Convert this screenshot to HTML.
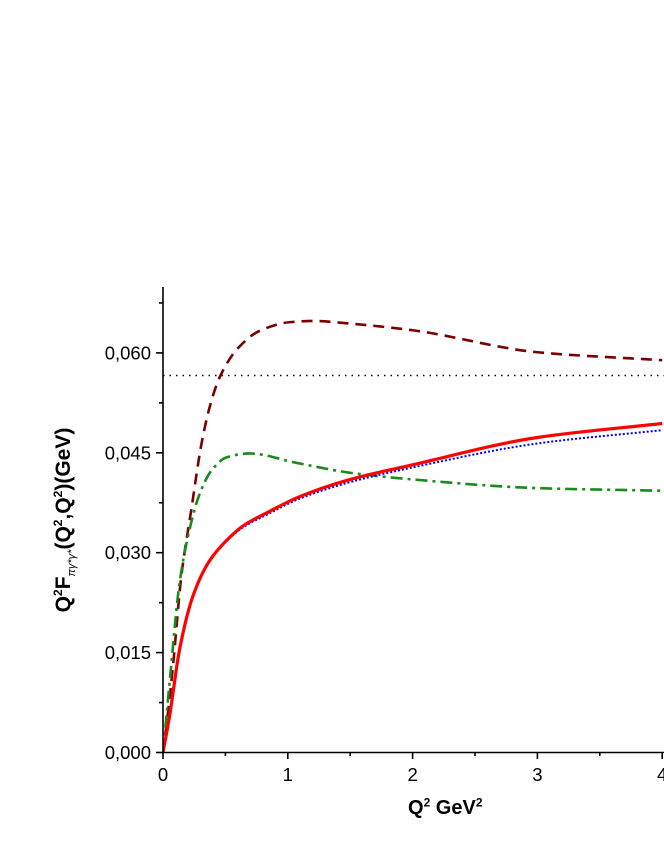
<!DOCTYPE html>
<html><head><meta charset="utf-8"><style>
body{margin:0;background:#fff;}
svg{display:block;font-family:"Liberation Sans",Arial,sans-serif;}
sup,sub{line-height:0;}
</style></head><body>
<svg id="c" width="664" height="860"></svg>
<script>
const xTicks=[0,1,2,3,4];
const yTicks=[0,0.015,0.030,0.045,0.060];
const yTickLabels=["0,000","0,015","0,030","0,045","0,060"];
const dashX=[0,0.04,0.08,0.147,0.227,0.307,0.373,0.453,0.6,0.773,1.01,1.2,1.5,2,3,4];
const dashY=[0,0.006,0.013,0.0265,0.0365,0.0462,0.0518,0.0563,0.0607,0.0633,0.0646,0.0648,0.0644,0.0634,0.0601,0.0589];
const greenX=[0,0.053,0.133,0.213,0.293,0.387,0.507,0.693,1.067,1.5,2,3,4];
const greenY=[0,0.0105,0.0255,0.0335,0.0388,0.0423,0.0443,0.0449,0.0435,0.0420,0.041,0.0397,0.0393];
const redX=[0,0.053,0.133,0.24,0.373,0.507,0.64,0.853,1.08,1.5,2,3,4];
const redY=[0,0.0055,0.0155,0.0235,0.0288,0.0318,0.034,0.0362,0.0383,0.0410,0.0432,0.0473,0.0494];
const blueX=[0,0.053,0.133,0.24,0.373,0.507,0.64,0.853,1.08,1.5,2,3,4];
const blueY=[0,0.0055,0.0155,0.0235,0.0288,0.0317,0.0338,0.0359,0.038,0.0406,0.0428,0.0464,0.0484];
const hLine=[0.0566];

const NS="http://www.w3.org/2000/svg";
const svg=document.getElementById('c');
const X=v=>163+v*124.8;
const Y=v=>752.5-v*6660;
function mk(t,a,p){const e=document.createElementNS(NS,t);for(const k in a)e.setAttribute(k,a[k]);(p||svg).appendChild(e);return e;}
function path(xs,ys){
  const P=xs.map((x,i)=>[X(x),Y(ys[i])]);const n=P.length;
  const d=[],m=[];
  for(let i=0;i<n-1;i++)d.push((P[i+1][1]-P[i][1])/(P[i+1][0]-P[i][0]));
  m[0]=d[0];m[n-1]=d[n-2];
  for(let i=1;i<n-1;i++){if(d[i-1]*d[i]<=0)m[i]=0;else{const w1=2*(P[i+1][0]-P[i][0])+(P[i][0]-P[i-1][0]),w2=(P[i+1][0]-P[i][0])+2*(P[i][0]-P[i-1][0]);m[i]=(w1+w2)/(w1/d[i-1]+w2/d[i]);}}
  let s=`M${P[0][0]},${P[0][1]}`;
  for(let i=0;i<n-1;i++){const h=(P[i+1][0]-P[i][0])/3;s+=` C${P[i][0]+h},${P[i][1]+m[i]*h} ${P[i+1][0]-h},${P[i+1][1]-m[i+1]*h} ${P[i+1][0]},${P[i+1][1]}`;}
  return s;}

const clip=mk('clipPath',{id:'cp'});mk('rect',{x:163,y:280,width:501,height:473},clip);
const g=mk('g',{'clip-path':'url(#cp)'});
const hl=mk('line',{x1:X(0),x2:X(4.1),y1:Y(hLine[0]),y2:Y(hLine[0]),stroke:'#000','stroke-width':1.5,'stroke-dasharray':'1.5 5'},g);


const s1=mk('path',{d:path(dashX,dashY),fill:'none',stroke:'#7a0000','stroke-width':2.6,'stroke-dasharray':'11 7'},g);


const s2=mk('path',{d:path(greenX,greenY),fill:'none',stroke:'#1a8a1a','stroke-width':2.6,'stroke-dasharray':'12 5 3 5'},g);


const s4=mk('path',{d:path(blueX,blueY),fill:'none',stroke:'#0000ff','stroke-width':2,'stroke-dasharray':'2 2'},g);


const s3=mk('path',{d:path(redX,redY),fill:'none',stroke:'#ff0000','stroke-width':3.2},g);



const ax=mk('g',{stroke:'#000','stroke-width':1.6});


mk('line',{x1:163,x2:163,y1:287,y2:753},ax);
mk('line',{x1:162,x2:664,y1:752.5,y2:752.5},ax);
for(let v=0;v<=0.0701;v+=0.0075){const maj=Math.abs((v/0.015)-Math.round(v/0.015))<1e-6;mk('line',{x1:maj?156:159,x2:163,y1:Y(v),y2:Y(v)},ax);}
for(let v=0;v<=4.01;v+=0.5){const maj=Math.abs(v-Math.round(v))<1e-6;mk('line',{x1:X(v),x2:X(v),y1:752,y2:maj?759:756},ax);}
yTicks.forEach((v,i)=>{const t=mk('text',{x:151,y:Y(v)+6.5,'text-anchor':'end','font-size':18.5});t.textContent=yTickLabels[i];

});
xTicks.forEach(v=>{const t=mk('text',{x:X(v),y:781,'text-anchor':'middle','font-size':18.5});t.textContent=v;

});
</script>
<div style="position:absolute;left:408px;top:797px;font:bold 20px 'Liberation Sans',sans-serif;white-space:nowrap;">Q<sup style="font-size:12px">2</sup> GeV<sup style="font-size:12px">2</sup></div>
<div style="position:absolute;left:64px;top:520px;transform:translate(-50%,-50%) rotate(-90deg);white-space:nowrap;font:bold 21px 'Liberation Sans',sans-serif;">Q<sup style="font-size:12px">2</sup>F<sub style="font-size:11px;font-weight:normal;font-style:italic">πγ*γ*</sub>(Q<sup style="font-size:12px">2</sup>,Q<sup style="font-size:12px">2</sup>)(GeV)</div>
</body></html>
